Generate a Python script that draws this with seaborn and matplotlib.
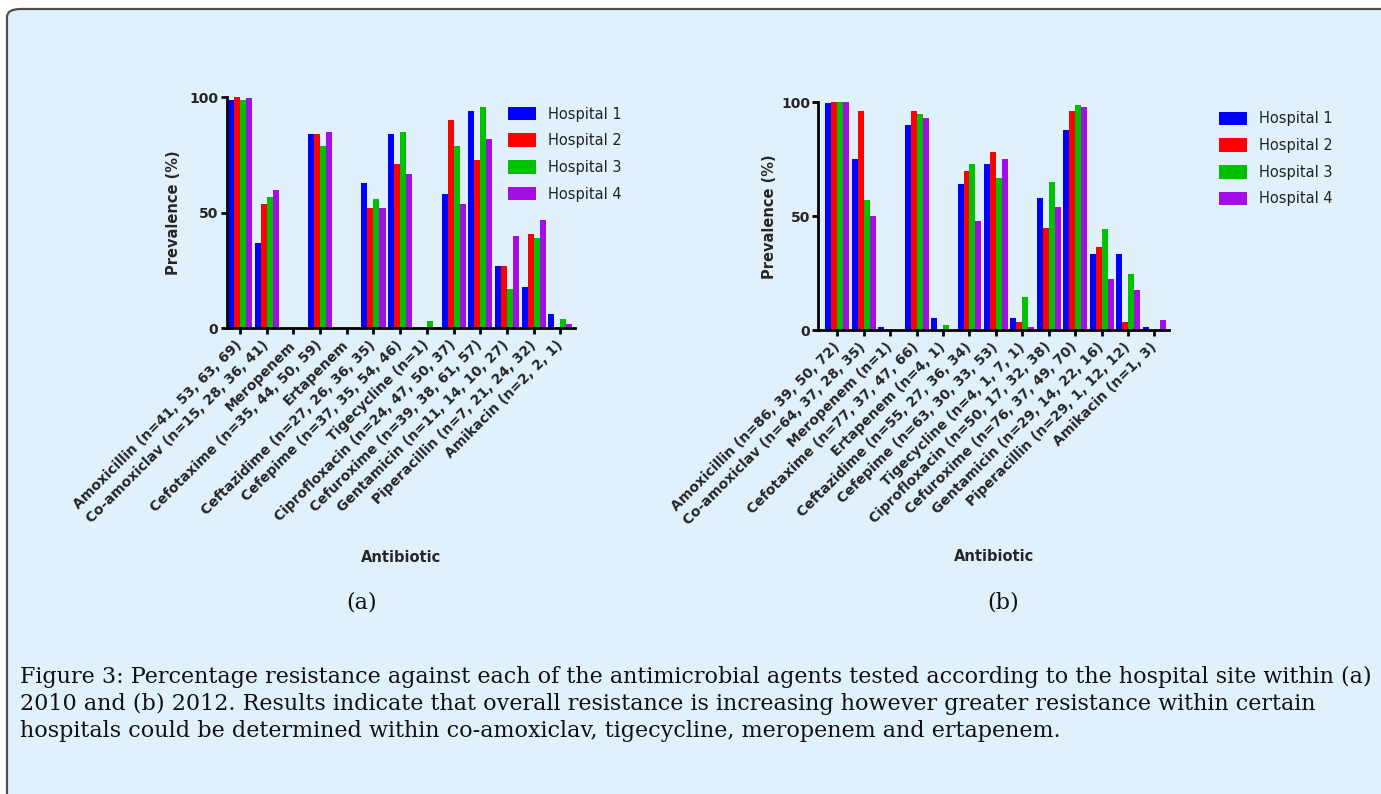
import matplotlib
matplotlib.use("Agg")
import matplotlib.pyplot as plt
from matplotlib.patches import FancyBboxPatch, Patch
import seaborn as sns
import pandas as pd

# ---------------- data ----------------
hospitals = ["Hospital 1", "Hospital 2", "Hospital 3", "Hospital 4"]
colors = ["#0000ff", "#ff0000", "#00c000", "#a30ee3"]

labels_2010 = ["Amoxicillin (n=41, 53, 63, 69)", "Co-amoxiclav (n=15, 28, 36, 41)", "Meropenem",
               "Cefotaxime (n=35, 44, 50, 59)", "Ertapenem", "Ceftazidime (n=27, 26, 36, 35)",
               "Cefepime (n=37, 35, 54, 46)", "Tigecycline (n=1)", "Ciprofloxacin (n=24, 47, 50, 37)",
               "Cefuroxime (n=39, 38, 61, 57)", "Gentamicin (n=11, 14, 10, 27)",
               "Piperacillin (n=7, 21, 24, 32)", "Amikacin (n=2, 2, 1)"]
h1_2010 = [99, 37, 0, 84, 0, 63, 84, 0, 58, 94, 27, 18, 6]
h2_2010 = [100, 54, 0, 84, 0, 52, 71, 0, 90, 73, 27, 41, 0]
h3_2010 = [99, 57, 0, 79, 0, 56, 85, 3, 79, 96, 17, 39, 4]
h4_2010 = [99.5, 60, 0, 85, 0, 52, 67, 0, 54, 82, 40, 47, 2]

labels_2012 = ["Amoxicillin (n=86, 39, 50, 72)", "Co-amoxiclav (n=64, 37, 28, 35)", "Meropenem (n=1)",
               "Cefotaxime (n=77, 37, 47, 66)", "Ertapenem (n=4, 1)", "Ceftazidime (n=55, 27, 36, 34)",
               "Cefepime (n=63, 30, 33, 53)", "Tigecycline (n=4, 1, 7, 1)", "Ciprofloxacin (n=50, 17, 32, 38)",
               "Cefuroxime (n=76, 37, 49, 70)", "Gentamicin (n=29, 14, 22, 16)",
               "Piperacillin (n=29, 1, 12, 12)", "Amikacin (n=1, 3)"]
h1_2012 = [99.5, 75, 1.5, 90, 5.5, 64, 73, 5.5, 58, 88, 33.5, 33.5, 1.5]
h2_2012 = [100, 96, 0, 96, 0, 70, 78, 3.5, 45, 96, 36.5, 3.5, 0]
h3_2012 = [100, 57, 0, 95, 2.5, 73, 67, 14.5, 65, 99, 44.5, 24.5, 0]
h4_2012 = [100, 50, 0, 93, 0, 48, 75, 1.5, 54, 98, 22.5, 17.5, 4.5]

y_ticks = [0, 50, 100]
y_label = "Prevalence (%)"
x_label = "Antibiotic"
panel_labels = ["(a)", "(b)"]
caption_lines = [
    "Figure 3: Percentage resistance against each of the antimicrobial agents tested according to the hospital site within (a)",
    "2010 and (b) 2012. Results indicate that overall resistance is increasing however greater resistance within certain",
    "hospitals could be determined within co-amoxiclav, tigecycline, meropenem and ertapenem.",
]


def long_df(labels, series):
    rows = []
    for hosp, vals in zip(hospitals, series):
        for lab, v in zip(labels, vals):
            rows.append({"antibiotic": lab, "hospital": hosp, "prevalence": v})
    return pd.DataFrame(rows)


df_a = long_df(labels_2010, [h1_2010, h2_2010, h3_2010, h4_2010])
df_b = long_df(labels_2012, [h1_2012, h2_2012, h3_2012, h4_2012])

# ---------------- figure ----------------
sns.set_theme(style="ticks")
plt.rcParams["font.family"] = ["DejaVu Sans"]

W, H = 1381, 794
fig = plt.figure(figsize=(W / 100, H / 100), dpi=100, facecolor="white")


def fx(x):
    return x / W


def fy(y):
    return 1 - y / H


bg = FancyBboxPatch((fx(7), fy(900)), fx(1500), fy(9) - fy(900),
                    boxstyle="round,pad=0,rounding_size=0.01",
                    transform=fig.transFigure, facecolor="#e0f1fc",
                    edgecolor="#505050", linewidth=1.6, zorder=-10)
fig.patches.append(bg)

# axes rectangles from pixel coordinates (left, top, right, bottom)
rects = [(226.7, 97.3, 575.0, 328.3), (818.3, 102.3, 1169.0, 330.3)]
xlims = [(-0.5, 12.55), (-0.72, 12.55)]
ylab_x = [-0.13, -0.118]
legend_pos = [(507.5, 106.5), (1218.5, 111.5)]
panel_pos = [(362, 603), (1003, 603)]

for i, (df, labels) in enumerate([(df_a, labels_2010), (df_b, labels_2012)]):
    l, t, r, b = rects[i]
    ax = fig.add_axes([fx(l), fy(b), fx(r - l), (b - t) / H])
    ax.set_facecolor("none")
    ax.set_zorder(2)
    sns.barplot(data=df, x="antibiotic", y="prevalence", hue="hospital",
                order=labels, hue_order=hospitals, palette=colors,
                saturation=1, width=0.9, gap=0, errorbar=None,
                linewidth=0, legend=False, ax=ax)
    for p in ax.patches:
        p.set_clip_on(False)
    ax.set_xlim(*xlims[i])
    ax.set_ylim(0, 100)
    ax.set_yticks(y_ticks)
    ax.set_yticklabels([str(v) for v in y_ticks], fontsize=10, fontweight="bold")
    ax.set_xticks(range(len(labels)))
    ax.set_xticklabels(labels, rotation=45, ha="right", va="center",
                       rotation_mode="anchor", fontsize=10, fontweight="bold")
    for s in ["top", "right"]:
        ax.spines[s].set_visible(False)
    for s in ["left", "bottom"]:
        ax.spines[s].set_linewidth(2)
        ax.spines[s].set_color("black")
    ax.tick_params(axis="both", length=4.5, width=2, color="black")
    ax.tick_params(axis="y", pad=1.5)
    ax.tick_params(axis="x", pad=6)
    ax.set_ylabel(y_label, fontsize=10.5, fontweight="bold")
    ax.yaxis.set_label_coords(ylab_x[i], 0.5)
    ax.set_xlabel(x_label, fontsize=10.5, fontweight="bold")
    ax.xaxis.set_label_coords(0.5, -0.96)

    handles = [Patch(facecolor=c, edgecolor="none") for c in colors]
    lx, ly = legend_pos[i]
    ax.legend(handles, hospitals, loc="upper left",
              bbox_to_anchor=(fx(lx), fy(ly)), bbox_transform=fig.transFigure,
              frameon=False, fontsize=10.5, borderpad=0, borderaxespad=0,
              handlelength=1.95, handleheight=1.05, handletextpad=0.8,
              labelspacing=0.8, labelcolor="#222222")

    px, py = panel_pos[i]
    fig.text(fx(px), fy(py), panel_labels[i], ha="center", va="center",
             fontsize=16, family="DejaVu Serif", color="#111111")

# caption, auto-sized so the first line spans the justified width
cap_y = [677, 704, 731]
cap_texts = [fig.text(fx(20), fy(y), s, ha="left", va="center",
                      fontsize=14, family="DejaVu Serif", color="#111111")
             for s, y in zip(caption_lines, cap_y)]
fig.canvas.draw()
renderer = fig.canvas.get_renderer()
w0 = cap_texts[0].get_window_extent(renderer).width
new_fs = 14 * 1362 / w0
for tx in cap_texts:
    tx.set_fontsize(new_fs)

fig.savefig("out.png", dpi=100, facecolor="white")
